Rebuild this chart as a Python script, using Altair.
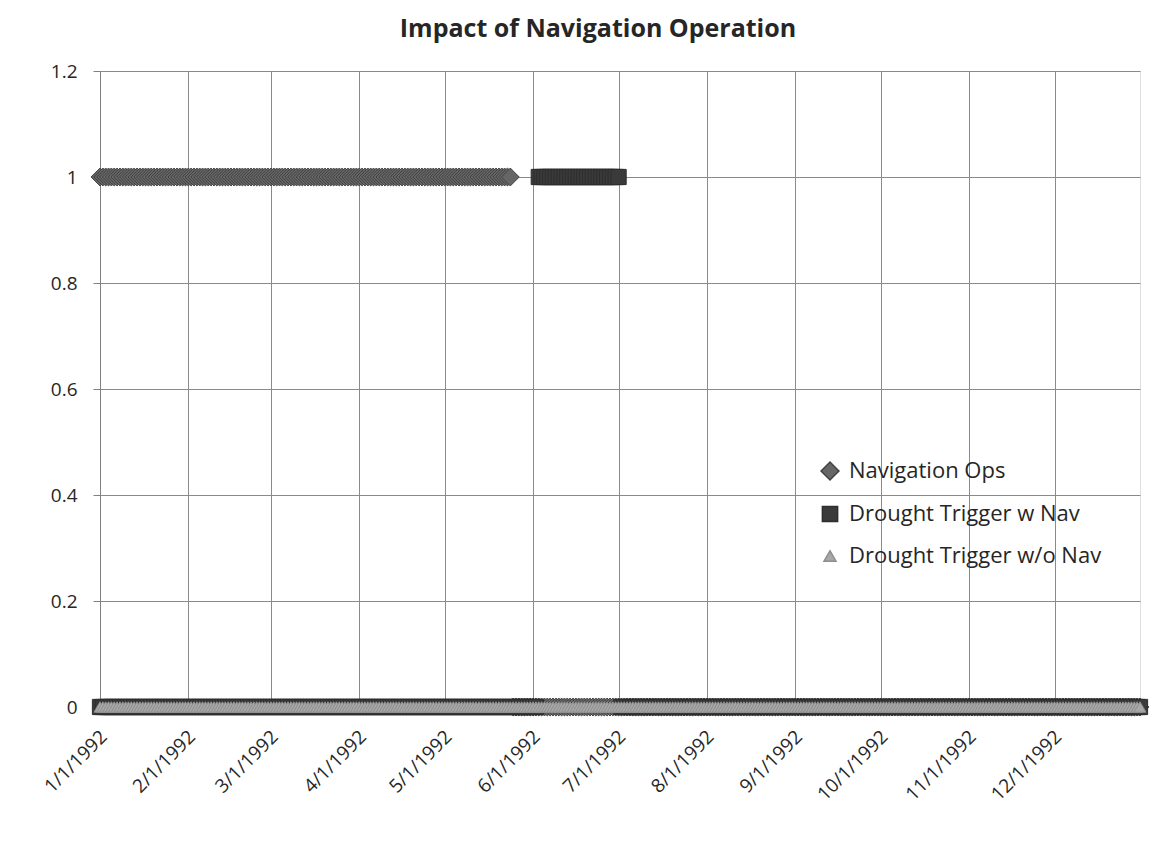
import altair as alt
import pandas as pd

# Series definitions (daily 0/1 values given as runs: value, last day of the run)
series_names = ["Navigation Ops", "Drought Trigger w Nav", "Drought Trigger w/o Nav"]
nav_ops_values = [1, 0]
nav_ops_run_ends = ["1992-05-24", "1992-12-31"]
drought_w_nav_values = [0, 1, 0]
drought_w_nav_run_ends = ["1992-06-02", "1992-07-01", "1992-12-31"]
drought_wo_nav_values = [0]
drought_wo_nav_run_ends = ["1992-12-31"]

y_ticks = [0, 0.2, 0.4, 0.6, 0.8, 1.0, 1.2]
x_tick_months = list(range(1, 13))

days = pd.date_range("1992-01-01", "1992-12-31", freq="D")


def expand(values, run_ends, name):
    rows = []
    ends = [pd.Timestamp(e) for e in run_ends]
    for d in days:
        for v, e in zip(values, ends):
            if d <= e:
                rows.append({"date": d.strftime("%Y/%m/%d"), "value": v, "series": name})
                break
    return rows


rows = []
rows += expand(nav_ops_values, nav_ops_run_ends, series_names[0])
rows += expand(drought_w_nav_values, drought_w_nav_run_ends, series_names[1])
rows += expand(drought_wo_nav_values, drought_wo_nav_run_ends, series_names[2])
df = pd.DataFrame(rows)

fill_colors = ["#666666", "#3a3a3a", "#a8a8a8"]
stroke_colors = ["#424242", "#2e2e2e", "#8e8e8e"]
shapes = ["diamond", "square", "triangle-up"]
sizes = [320, 144, 60]

FONT = "Open Sans"
TEXT = "#262626"

chart = (
    alt.Chart(df)
    .mark_point(filled=True, opacity=1, strokeWidth=1)
    .encode(
        x=alt.X(
            "date:T",
            title=None,
            scale=alt.Scale(
                domain=[alt.DateTime(year=1992, month=1, date=1), alt.DateTime(year=1992, month=12, date=31)],
                nice=False,
            ),
            axis=alt.Axis(
                values=[alt.DateTime(year=1992, month=m, date=1) for m in x_tick_months],
                format="%-m/%-d/%Y",
                labelAngle=-45,
                labelFontSize=19,
                labelFont=FONT,
                labelColor=TEXT,
                labelPadding=14,
                labelOffset=-3,
                tickSize=6,
                tickColor="#808080",
                domainColor="#808080",
                gridColor="#8a8a8a",
                grid=True,
            ),
        ),
        y=alt.Y(
            "value:Q",
            title=None,
            scale=alt.Scale(domain=[0, 1.2], nice=False),
            axis=alt.Axis(
                values=y_ticks,
                format=".1~f",
                labelFontSize=19,
                labelFont=FONT,
                labelColor=TEXT,
                labelPadding=16,
                tickSize=7,
                tickColor="#808080",
                domainColor="#808080",
                gridColor="#8a8a8a",
                grid=True,
            ),
        ),
        color=alt.Color(
            "series:N",
            scale=alt.Scale(domain=series_names, range=fill_colors),
            legend=alt.Legend(
                title=None,
                orient="none",
                legendX=719,
                legendY=389,
                labelFontSize=22,
                labelFont=FONT,
                labelColor=TEXT,
                labelLimit=0,
                symbolSize=100,
                rowPadding=20,
                labelOffset=8,
            ),
        ),
        shape=alt.Shape(
            "series:N",
            scale=alt.Scale(domain=series_names, range=shapes),
            legend=alt.Legend(title=None, orient="none", legendX=719, legendY=389),
        ),
        stroke=alt.Stroke("series:N", scale=alt.Scale(domain=series_names, range=stroke_colors), legend=None),
        size=alt.Size("series:N", scale=alt.Scale(domain=series_names, range=sizes), legend=None),
        order=alt.Order("order:Q"),
    )
    .transform_calculate(
        order="indexof(['Navigation Ops','Drought Trigger w Nav','Drought Trigger w/o Nav'], datum.series)"
    )
    .properties(
        width=1040,
        height=636,
        title=alt.Title(
            "Impact of Navigation Operation",
            fontSize=25,
            font=FONT,
            fontWeight="bold",
            color=TEXT,
            offset=20,
            dx=-22,
        ),
        autosize=alt.AutoSizeParams(type="none"),
        padding={"left": 92, "top": 63, "right": 15, "bottom": 130},
    )
    .configure_view(stroke="#8a8a8a")
    .configure(background="white")
)

chart.save("out.html", embed_options={"renderer": "svg", "actions": False})
